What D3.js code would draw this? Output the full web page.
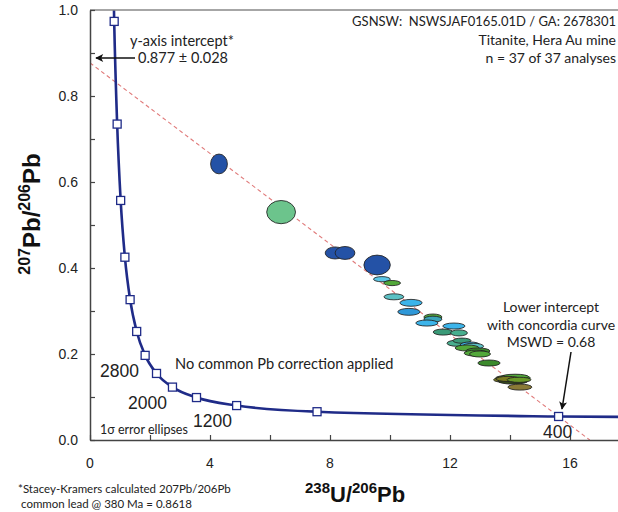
<!DOCTYPE html>
<html><head><meta charset="utf-8">
<script src="https://cdn.jsdelivr.net/npm/d3@7"></script>
<style>
html,body{margin:0;padding:0;background:#fff;}
svg{display:block;}
</style></head>
<body>
<svg id="chart" width="618" height="512"></svg>
<script>
// ---- data ----
const xTicks = [0, 4, 8, 12, 16];
const yTicks = [0.0, 0.2, 0.4, 0.6, 0.8, 1.0];
const xMinorTicks = [2, 6, 10, 14, 18];
const yMinorTicks = [0.1, 0.3, 0.5, 0.7, 0.9];
// concordia markers (Ma) and their positions
const concordiaAges = [400, 800, 1200, 1600, 2000, 2400, 2800, 3200, 3600, 4000, 4400, 4800, 5200];
const concordiaX = [15.62, 7.568, 4.888, 3.55, 2.749, 2.217, 1.838, 1.556, 1.337, 1.163, 1.022, 0.905, 0.806];
const concordiaY = [0.0547, 0.0658, 0.0801, 0.0987, 0.1230, 0.1548, 0.1968, 0.2524, 0.3264, 0.4251, 0.5571, 0.7347, 0.9735];
// curve continues beyond the marked ages
const concordiaExtraX = [20.99, 0.723];
const concordiaExtraY = [0.0523, 1.297];
const ageLabels = ["2800", "2000", "1200", "400"];
// discordia: y-intercept and x-intercept
const discordiaX = [0, 16.66];
const discordiaY = [0.877, 0];
// ellipses: centre x, centre y, semi-axis x, semi-axis y, colour group
const ellX  = [4.30, 6.37, 8.17, 8.50, 9.57, 9.73, 10.07, 10.13, 10.70, 10.63, 11.43, 11.43, 11.23, 12.13, 11.77, 12.30, 12.23, 12.40, 12.67, 12.77, 12.57, 12.93, 12.87, 13.00, 13.30, 14.07, 14.00, 14.23, 14.10, 14.17, 13.93, 14.30, 14.33];
const ellY  = [0.642, 0.530, 0.435, 0.435, 0.407, 0.374, 0.365, 0.333, 0.319, 0.298, 0.286, 0.281, 0.272, 0.265, 0.251, 0.249, 0.225, 0.231, 0.221, 0.218, 0.214, 0.207, 0.202, 0.200, 0.179, 0.144, 0.140, 0.144, 0.137, 0.147, 0.142, 0.140, 0.123];
const ellSX = [0.28, 0.48, 0.33, 0.33, 0.44, 0.28, 0.28, 0.33, 0.37, 0.37, 0.30, 0.30, 0.37, 0.37, 0.33, 0.28, 0.33, 0.30, 0.33, 0.35, 0.40, 0.40, 0.40, 0.35, 0.37, 0.55, 0.55, 0.45, 0.50, 0.45, 0.40, 0.40, 0.40];
const ellSY = [0.023, 0.027, 0.014, 0.015, 0.023, 0.006, 0.006, 0.007, 0.008, 0.008, 0.007, 0.007, 0.007, 0.007, 0.007, 0.007, 0.007, 0.006, 0.007, 0.007, 0.007, 0.007, 0.007, 0.007, 0.007, 0.007, 0.007, 0.007, 0.007, 0.006, 0.006, 0.006, 0.007];
const ellGroup = ["navy","lightgreen","navy","navy","navy","skyblue","green","teal","cyan","blue","green","tealblue","cyan","cyan","darkteal","tealgreen","tealgreen","darkteal","cyan","teal","green","darkgreen","green","green","darkgreen","darkolive","olive","green","dark","green","olive","olivegreen","brownolive"];
const groupColors = {navy:"#2452a6", lightgreen:"#6cc48c", skyblue:"#5cc6e6", green:"#52a83a", teal:"#5cc0c4", cyan:"#3cb4ea", blue:"#2f98d8", tealblue:"#3aa4b8", darkteal:"#3a9a78", tealgreen:"#48ae8e", darkgreen:"#3c8a2c", darkolive:"#4a6a20", olive:"#7a7a22", dark:"#34481c", olivegreen:"#6a9a28", brownolive:"#8a7a36"};

// ---- layout ----
const svg = d3.select("#chart");
const W = 618, H = 512;
const x = d3.scaleLinear().domain([0, 17.6]).range([90, 618]);
const y = d3.scaleLinear().domain([0, 1.0]).range([440, 10]);

const defs = svg.append("defs");
defs.append("clipPath").attr("id","plotclip")
  .append("rect").attr("x",90).attr("y",10).attr("width",W-90).attr("height",430);
defs.append("marker").attr("id","arrow").attr("viewBox","0 0 10 10")
  .attr("refX",9).attr("refY",5).attr("markerWidth",10).attr("markerHeight",8)
  .attr("markerUnits","userSpaceOnUse").attr("orient","auto")
  .append("path").attr("d","M0,0 L10,5 L0,10 L2.5,5 Z").attr("fill","#111");

const plot = svg.append("g").attr("clip-path","url(#plotclip)");

// discordia line
plot.append("line")
  .attr("x1", x(discordiaX[0])).attr("y1", y(discordiaY[0]))
  .attr("x2", x(discordiaX[1])).attr("y2", y(discordiaY[1]))
  .attr("stroke","#e07a7a").attr("stroke-width",1.1).attr("stroke-dasharray","4,3");

// concordia curve
const cPts = concordiaX.map((v,i)=>[v, concordiaY[i]])
  .concat(concordiaExtraX.map((v,i)=>[v, concordiaExtraY[i]]))
  .sort((a,b)=>a[0]-b[0]);
plot.append("path").datum(cPts)
  .attr("d", d3.line().x(d=>x(d[0])).y(d=>y(d[1])).curve(d3.curveMonotoneX))
  .attr("fill","none").attr("stroke","#1f2b88").attr("stroke-width",2.6);

// ellipses
const ells = ellX.map((v,i)=>({x:v, y:ellY[i], sx:ellSX[i], sy:ellSY[i], g:ellGroup[i]}));
plot.selectAll("ellipse.e").data(ells).enter().append("ellipse")
  .attr("class","e")
  .attr("cx", d=>x(d.x)).attr("cy", d=>y(d.y))
  .attr("rx", d=>x(d.x+d.sx)-x(d.x)).attr("ry", d=>y(d.y)-y(d.y+d.sy))
  .attr("fill", d=>groupColors[d.g]).attr("stroke","#222").attr("stroke-width",1).attr("stroke-opacity",0.85);

// concordia markers
plot.selectAll("rect.m").data(concordiaX.map((v,i)=>[v, concordiaY[i]])).enter().append("rect")
  .attr("class","m")
  .attr("x", d=>x(d[0])-4).attr("y", d=>y(d[1])-4).attr("width",8).attr("height",8)
  .attr("fill","#fff").attr("stroke","#1f2b88").attr("stroke-width",1.3);

// axes
const axisColor = "#444";
svg.append("line").attr("x1",90).attr("x2",W).attr("y1",10).attr("y2",10).attr("stroke","#888").attr("stroke-width",1.6);
const xAxis = d3.axisBottom(x).tickValues(xTicks.concat(xMinorTicks)).tickSizeInner(-5).tickSizeOuter(0).tickFormat(()=> "");
const yAxis = d3.axisLeft(y).tickValues(yTicks.concat(yMinorTicks)).tickSizeInner(-5).tickSizeOuter(0).tickFormat(()=> "");
const gx = svg.append("g").attr("transform","translate(0,440)").call(xAxis);
const gy = svg.append("g").attr("transform","translate(90,0)").call(yAxis);
[gx, gy].forEach(g=>{
  g.select(".domain").attr("stroke",axisColor).attr("stroke-width",1.5);
  g.selectAll(".tick line").attr("stroke",axisColor).attr("stroke-width",1.2);
});
const tickFont = "'Liberation Sans', Arial, sans-serif";
svg.append("g").selectAll("text").data(xTicks).enter().append("text")
  .attr("x", d=>x(d)).attr("y", 468).attr("text-anchor","middle")
  .attr("font-family",tickFont).attr("font-size",14).attr("fill","#222").text(d=>d);
svg.append("g").selectAll("text").data(yTicks).enter().append("text")
  .attr("x", 78).attr("y", d=>y(d)+5).attr("text-anchor","end")
  .attr("font-family",tickFont).attr("font-size",14).attr("fill","#222").text(d=>d.toFixed(1));

// axis titles
const xl = svg.append("text").attr("x",305).attr("y",502)
  .attr("font-family",tickFont).attr("font-weight","bold").attr("font-size",22).attr("fill","#111");
xl.append("tspan").attr("font-size",15).attr("dy",-9).text("238");
xl.append("tspan").attr("dy",9).text("U/");
xl.append("tspan").attr("font-size",15).attr("dy",-9).text("206");
xl.append("tspan").attr("dy",9).text("Pb");
const yl = svg.append("text").attr("transform","translate(40,214) rotate(-90)").attr("text-anchor","middle")
  .attr("font-family",tickFont).attr("font-weight","bold").attr("font-size",24).attr("fill","#111");
yl.append("tspan").attr("font-size",16).attr("dy",-10).text("207");
yl.append("tspan").attr("dy",10).text("Pb/");
yl.append("tspan").attr("font-size",16).attr("dy",-10).text("206");
yl.append("tspan").attr("dy",10).text("Pb");

// annotations
const annFont = "Lato, 'Noto Sans', sans-serif";
function txt(tx, ty, s, size, anchor){
  return svg.append("text").attr("x",tx).attr("y",ty).attr("font-family",annFont)
    .attr("font-size",size).attr("fill","#222").attr("text-anchor",anchor||"start").text(s);
}
txt(616, 26, "GSNSW:\u00a0 NSWSJAF0165.01D / GA: 2678301", 13, "end");
txt(616, 45, "Titanite, Hera Au mine", 14, "end");
txt(616, 63, "n = 37 of 37 analyses", 14, "end");
txt(130, 46, "y-axis intercept*", 14.5);
txt(138, 63, "0.877 ± 0.028", 14.5);
svg.append("line").attr("x1",135).attr("y1",58).attr("x2",96).attr("y2",58)
  .attr("stroke","#111").attr("stroke-width",1.3).attr("marker-end","url(#arrow)");
txt(175, 369, "No common Pb correction applied", 14.6);
txt(100, 434, "1σ error ellipses", 12.5);
txt(551, 312, "Lower intercept", 14, "middle");
txt(551, 330, "with concordia curve", 14, "middle");
txt(551, 347, "MSWD = 0.68", 14, "middle");
svg.append("line").attr("x1",571).attr("y1",352).attr("x2",562).attr("y2",409)
  .attr("stroke","#111").attr("stroke-width",1.5).attr("marker-end","url(#arrow)");
const ageFont = "'Liberation Sans', Arial, sans-serif";
const agePos = [[100,377],[128,409],[193,427],[543,438]];
ageLabels.forEach((s,i)=>{
  svg.append("text").attr("x",agePos[i][0]).attr("y",agePos[i][1]).attr("font-family",ageFont)
    .attr("font-size",17.5).attr("fill","#222").text(s);
});
txt(18, 493, "*Stacey-Kramers calculated 207Pb/206Pb", 11.5);
txt(21, 508, "common lead @ 380 Ma = 0.8618", 11.5);
</script>
</body></html>
